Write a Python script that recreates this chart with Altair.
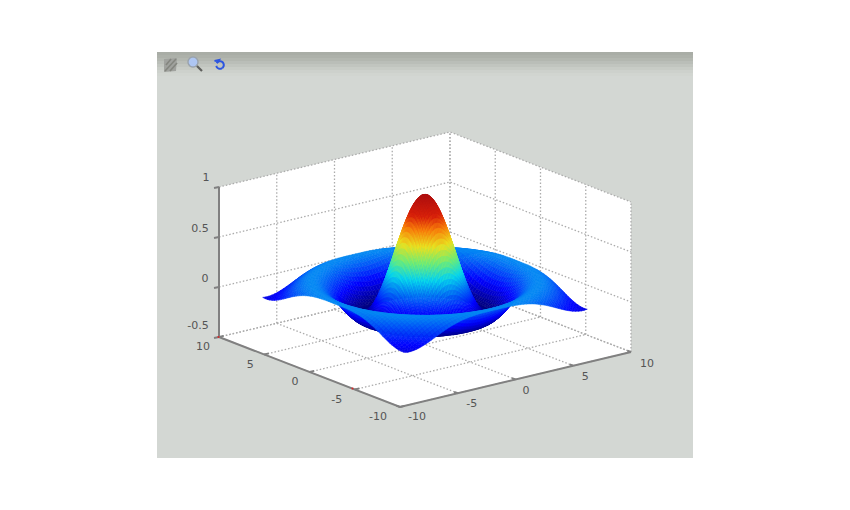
import numpy as np
import pandas as pd
import altair as alt

# Radial profile of the surface (height against radius)
radius_step = 0.25
profile = [1.000, .990, .959, .909, .841, .759, .665, .562, .455, .346, .239, .139, .047,
           -.033, -.100, -.152, -.189, -.211, -.217, -.210, -.192, -.164, -.128, -.089,
           -.047, -.005, .033, .067, .094, .114, .125, .128, .124, .112, .094, .071, .046,
           .019, -.008, -.033, -.054, -.072, -.084, -.091, -.091, -.086, -.076]
surface_extent = 7.88
coarse_cell = 0.25
fine_cell = 0.125
fine_extent = 4.5

xy_ticks = [-10, -5, 0, 5, 10]
z_ticks = [-0.5, 0, 0.5, 1]
z_labels = ["-0.5", "0", "0.5", "1"]
y_labels = ["-10", "-5", "0", "5", "10"]
x_labels = ["-10", "-5", "0", "5", "10"]
y_label_off = [(-22, 10), (-18, 10), (-14.5, 10), (-14, 10), (-16, 10)]
x_label_off = [(17, 10), (14, 11), (10.5, 11.5), (12, 11), (16, 12)]
z_label_off = [(-21, -11), (-14, -8), (-19, -8), (-13, -9)]

jet_pos = [0, .125, .375, .5, .625, .75, .85, 1]
jet_r = [0, 0, .03, .45, .93, .97, .84, .68]
jet_g = [0, 0, .85, .93, .88, .48, .12, .06]
jet_b = [.5, 1, .93, .45, .12, .04, .04, .06]

page_bg = "#ffffff"
figure_bg = "#d3d7d3"
toolbar_shades = ["#a9ada6", "#adb1aa", "#b3b7b0", "#babeb8", "#c1c5bf", "#c8ccc6", "#cdd1cc", "#d1d5d0"]
grid_color = "#acacac"
axis_color = "#808080"
text_color = "#555555"

# 3-D box to screen
FRONT = np.array([400.0, 407.0])
EX = np.array([11.55, -2.75])
EY = np.array([-9.05, -3.5])
EZ = np.array([0.0, -100.0])


def P(x, y, z):
    p = FRONT + (x + 10) * EX + (y + 10) * EY + (z + 0.5) * EZ
    return [round(float(p[0]), 2), round(float(p[1]), 2)]


def feat(kind, coords, **props):
    return {"type": "Feature", "properties": props, "geometry": {"type": kind, "coordinates": coords}}


def poly(pts, **props):
    pts = list(pts)
    return feat("Polygon", [pts + [pts[0]]], **props)


def hexcolor(z):
    t = (z - min(profile)) / (1 - min(profile))
    r, g, b = (np.interp(t, jet_pos, c) for c in (jet_r, jet_g, jet_b))
    return "#%02x%02x%02x" % (int(r * 255), int(g * 255), int(b * 255))


PROJ = dict(type="identity", scale=1, translate=[-8, -8])


def fills(features, **mark):
    return alt.Chart(alt.Data(values=features)).mark_geoshape(**mark).encode(
        fill=alt.Fill("properties.c:N", scale=None), stroke=alt.Stroke("properties.c:N", scale=None)
    ).project(**PROJ)


def lines(features, **mark):
    return alt.Chart(alt.Data(values=features)).mark_geoshape(filled=False, **mark).project(**PROJ)


# Background, toolbar
bg = [poly([[157, 52], [693, 52], [693, 458], [157, 458]], c=figure_bg)]
for i, col in enumerate(toolbar_shades):
    y0 = 52 + i * 3
    bg.append(poly([[157, y0], [693, y0], [693, y0 + 3], [157, y0 + 3]], c=col))
bg.append(poly([P(-10, 10, 1), P(10, 10, 1), P(10, -10, 1), P(10, -10, -.5), P(-10, -10, -.5), P(-10, 10, -.5)], c="#ffffff"))

# Dotted grid
grid = []
for t in xy_ticks:
    grid.append(feat("LineString", [P(t, -10, -.5), P(t, 10, -.5)]))
    grid.append(feat("LineString", [P(-10, t, -.5), P(10, t, -.5)]))
    grid.append(feat("LineString", [P(t, 10, -.5), P(t, 10, 1)]))
    grid.append(feat("LineString", [P(10, t, -.5), P(10, t, 1)]))
for z in z_ticks:
    grid.append(feat("LineString", [P(-10, 10, z), P(10, 10, z), P(10, -10, z)]))

# Axes and ticks
axes = [feat("LineString", [P(-10, 10, 1), P(-10, 10, -.5), P(-10, -10, -.5), P(10, -10, -.5)])]
for t in xy_ticks:
    axes.append(feat("LineString", [P(t, -10, -.5), P(t, -9.6, -.5)]))
    axes.append(feat("LineString", [P(-10, t, -.5), P(-9.6, t, -.5)]))
for z in z_ticks:
    p = P(-10, 10, z)
    axes.append(feat("LineString", [[p[0] - 5, p[1] + 1], p]))

# Surface, painted from the far corner to the near one; finer cells round the peak
r_knots = np.arange(len(profile)) * radius_step


def height(x, y):
    return float(np.interp(np.hypot(x, y), r_knots, profile))


def add_cell(store, x0, x1, y0, y1):
    zs = [height(x0, y0), height(x1, y0), height(x1, y1), height(x0, y1)]
    pts = [P(x0, y0, zs[0]), P(x1, y0, zs[1]), P(x1, y1, zs[2]), P(x0, y1, zs[3])]
    store.append((x0 + x1 + y0 + y1, poly(pts, c=hexcolor(sum(zs) / 4))))


cells = []
n = int(round(2 * surface_extent / coarse_cell))
coarse = np.linspace(-surface_extent, surface_extent, n + 1)
for i in range(n):
    for j in range(n):
        xc, yc = (coarse[i] + coarse[i + 1]) / 2, (coarse[j] + coarse[j + 1]) / 2
        if abs(xc) < fine_extent and abs(yc) < fine_extent:
            continue
        add_cell(cells, coarse[i], coarse[i + 1], coarse[j], coarse[j + 1])
# fine block covers exactly the coarse cells skipped above
lo = min(coarse[i] for i in range(n) if abs((coarse[i] + coarse[i + 1]) / 2) < fine_extent)
hi = max(coarse[i + 1] for i in range(n) if abs((coarse[i] + coarse[i + 1]) / 2) < fine_extent)
m = int(round((hi - lo) / fine_cell))
fine = np.linspace(lo, hi, m + 1)
for i in range(m):
    for j in range(m):
        add_cell(cells, fine[i], fine[i + 1], fine[j], fine[j + 1])
cells.sort(key=lambda c: -c[0])
surface = [c[1] for c in cells]

# Tick labels
rows = []
for t, lab, off in zip(xy_ticks, y_labels, y_label_off):
    p = P(-10, t, -.5)
    rows.append(dict(px=p[0] + off[0], py=p[1] + off[1], t=lab))
for t, lab, off in zip(xy_ticks, x_labels, x_label_off):
    p = P(t, -10, -.5)
    rows.append(dict(px=p[0] + off[0], py=p[1] + off[1], t=lab))
for z, lab, off in zip(z_ticks, z_labels, z_label_off):
    p = P(-10, 10, z)
    rows.append(dict(px=p[0] + off[0], py=p[1] + off[1], t=lab))
labels = alt.Chart(pd.DataFrame(rows)).mark_text(
    font="DejaVu Sans", fontSize=11, color=text_color, align="center", baseline="middle"
).encode(longitude="px:Q", latitude="py:Q", text="t:N").project(**PROJ)

# Toolbar icons
ang = np.linspace(0, 2 * np.pi, 24, endpoint=False)
icon_fill = [
    poly([[164, 59], [177, 58], [176, 71], [164, 72]], c="#a0a29e"),
    poly([[193 + 5 * np.cos(a), 62 + 5 * np.sin(a)] for a in ang], c="#aec6f2"),
]
icon_grey = [
    feat("LineString", [[165, 71], [176, 59]]),
    feat("LineString", [[170, 71], [177, 63]]),
    feat("LineString", [[166, 65], [171, 59]]),
]
icon_ring = [feat("LineString", [[193 + 5 * np.cos(a), 62 + 5 * np.sin(a)] for a in ang] + [[198, 62]])]
icon_handle = [feat("LineString", [[197, 66], [202, 71]])]
arc1 = np.linspace(-2.6, 0.9, 14)
arc2 = np.linspace(0.9, 2.9, 10)
icon_blue = [
    feat("LineString", [[220 + 3.8 * np.cos(a), 65 + 3.8 * np.sin(a)] for a in arc1]),
    feat("LineString", [[220 + 3.8 * np.cos(a), 65 + 3.8 * np.sin(a)] for a in arc2]),
    feat("LineString", [[214.5, 61], [219, 60], [217, 63]]),
]

red = alt.Chart(pd.DataFrame({"px": [218.5, 352.5], "py": [337.0, 388.5]})).mark_square(
    color="#dd2222", size=3, opacity=1
).encode(longitude="px:Q", latitude="py:Q").project(**PROJ)

chart = alt.layer(
    fills(bg, strokeWidth=0),
    lines(grid, stroke=grid_color, strokeWidth=1.3, strokeDash=[1.5, 2]),
    lines(axes, stroke=axis_color, strokeWidth=2),
    fills(surface, strokeWidth=0.5),
    red,
    labels,
    fills(icon_fill, strokeWidth=0),
    lines(icon_grey, stroke="#84867f", strokeWidth=1.6),
    lines(icon_ring, stroke="#9aa3ad", strokeWidth=1.4),
    lines(icon_handle, stroke="#5e5f5c", strokeWidth=2.2),
    lines(icon_blue, stroke="#2c55e0", strokeWidth=2),
).properties(
    width=834, height=490, background=page_bg, padding=0, autosize=alt.AutoSizeParams(type="none")
).configure_view(stroke=None)

chart.save("out.html", embed_options={"renderer": "svg", "actions": False})
